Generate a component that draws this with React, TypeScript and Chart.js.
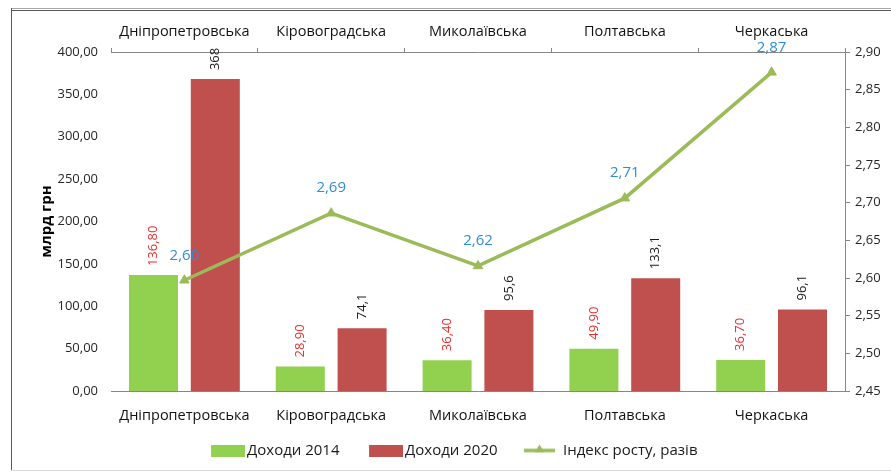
import React, { useEffect, useRef } from 'react';
import { Chart, registerables } from 'chart.js';

Chart.register(...registerables);

const categories = ['Дніпропетровська', 'Кіровоградська', 'Миколаївська', 'Полтавська', 'Черкаська'];
const income2014 = [136.8, 28.9, 36.4, 49.9, 36.7];
const income2020 = [368, 74.1, 95.6, 133.1, 96.1];
const growthIndex = [2.597, 2.686, 2.616, 2.706, 2.873];
const seriesNames = ['Доходи 2014', 'Доходи 2020', 'Індекс росту, разів'];
const axisTitle = 'млрд грн';
const leftAxis = { min: 0, max: 400, step: 50 };
const rightAxis = { min: 2.45, max: 2.9, step: 0.05 };

const FONT = "'Open Sans', sans-serif";
const GREEN = '#92D050';
const RED = '#C0504D';
const LINE = '#9BBB59';
const AXIS = '#868686';

const fmt2 = (v: number) => Number(v).toFixed(2).replace('.', ',');
const fmtPlain = (v: number) => String(v).replace('.', ',');

const LEGEND_FONT = 15;
const LEGEND_PAD = 6;
const PSW = 52;

function imgWidth() {
  return PSW + 2 * (LEGEND_FONT / 2 - 1);
}

function makeBoxImg(color: string) {
  const W = imgWidth();
  const H = 12;
  const c = document.createElement('canvas');
  c.width = W;
  c.height = H;
  const g = c.getContext('2d')!;
  g.fillStyle = color;
  g.fillRect(W - 35, 0, 34, H);
  return c;
}

function makeLineImg(color: string) {
  const W = imgWidth();
  const H = 14;
  const c = document.createElement('canvas');
  c.width = W;
  c.height = H;
  const g = c.getContext('2d')!;
  g.strokeStyle = color;
  g.lineWidth = 3.5;
  g.beginPath();
  g.moveTo(W - 38, H / 2);
  g.lineTo(W - 7, H / 2);
  g.stroke();
  const cx = W - 22.5;
  g.fillStyle = color;
  g.beginPath();
  g.moveTo(cx, H / 2 - 6);
  g.lineTo(cx + 5, H / 2 + 2);
  g.lineTo(cx - 5, H / 2 + 2);
  g.closePath();
  g.fill();
  return c;
}

const framePlugin = {
  id: 'frame',
  beforeDraw(chart: any) {
    const c = chart.ctx;
    c.save();
    c.fillStyle = '#ffffff';
    c.fillRect(0, 0, chart.width, chart.height);
    c.lineWidth = 1;
    const seg = (x1: number, y1: number, x2: number, y2: number, col: string) => {
      c.strokeStyle = col;
      c.beginPath();
      c.moveTo(x1, y1);
      c.lineTo(x2, y2);
      c.stroke();
    };
    seg(11, 8.5, chart.width, 8.5, '#a6a6a6');
    seg(11, 10.5, chart.width, 10.5, '#595959');
    seg(11.5, 8, 11.5, 471, '#595959');
    seg(11, 470.5, chart.width, 470.5, '#d9d9d9');
    c.restore();
  },
};

const legendShiftPlugin = {
  id: 'legendShift',
  afterLayout(chart: any) {
    const lg = chart.legend;
    if (lg) {
      lg.left -= 9;
      lg.right -= 9;
    }
  },
};

const labelPlugin = {
  id: 'valueLabels',
  afterDatasetsDraw(chart: any) {
    const ctx = chart.ctx;
    ctx.save();
    [0, 1].forEach((di) => {
      const meta = chart.getDatasetMeta(di);
      const values = chart.data.datasets[di].data as number[];
      meta.data.forEach((el: any, i: number) => {
        const text = di === 0 ? fmt2(values[i]) : fmtPlain(values[i]);
        ctx.save();
        ctx.translate(el.x, el.y - 9);
        ctx.rotate(-Math.PI / 2);
        ctx.font = `13px ${FONT}`;
        ctx.fillStyle = di === 0 ? '#E3302D' : '#1a1a1a';
        ctx.textAlign = 'left';
        ctx.textBaseline = 'middle';
        ctx.fillText(text, 0, 0);
        ctx.restore();
      });
    });
    const lm = chart.getDatasetMeta(2);
    const lv = chart.data.datasets[2].data as number[];
    lm.data.forEach((el: any, i: number) => {
      ctx.font = `15px ${FONT}`;
      ctx.fillStyle = '#2F8CDB';
      ctx.textAlign = 'center';
      ctx.textBaseline = 'middle';
      ctx.fillText(fmt2(lv[i]), el.x, el.y - 25);
    });
    ctx.restore();
  },
};

export default function App() {
  const ref = useRef<HTMLCanvasElement>(null);

  useEffect(() => {
    document.body.style.margin = '0';
    const canvas = ref.current!;
    const legendItems = [
      makeBoxImg(GREEN),
      makeBoxImg(RED),
      makeLineImg(LINE),
    ].map((img, i) => ({
      text: seriesNames[i],
      pointStyle: img,
      fillStyle: 'transparent',
      strokeStyle: 'transparent',
      lineWidth: 0,
      hidden: false,
      datasetIndex: i,
      fontColor: '#1a1a1a',
    }));

    const chart = new Chart(canvas, {
      type: 'bar',
      data: {
        labels: categories,
        datasets: [
          {
            type: 'bar',
            label: seriesNames[0],
            data: income2014,
            backgroundColor: GREEN,
            yAxisID: 'y',
            xAxisID: 'x',
            order: 2,
            categoryPercentage: 0.842,
            barPercentage: 0.793,
          },
          {
            type: 'bar',
            label: seriesNames[1],
            data: income2020,
            backgroundColor: RED,
            yAxisID: 'y',
            xAxisID: 'x',
            order: 2,
            categoryPercentage: 0.842,
            barPercentage: 0.793,
          },
          {
            type: 'line',
            label: seriesNames[2],
            data: growthIndex,
            borderColor: LINE,
            backgroundColor: LINE,
            borderWidth: 3.5,
            pointStyle: 'triangle',
            pointRadius: 5.5,
            pointBackgroundColor: LINE,
            pointBorderColor: LINE,
            pointBorderWidth: 1,
            yAxisID: 'y1',
            xAxisID: 'x',
            order: 1,
            tension: 0,
          } as any,
        ],
      },
      options: {
        responsive: false,
        maintainAspectRatio: false,
        animation: false,
        devicePixelRatio: 1,
        font: { family: FONT },
        layout: { padding: { left: 12, right: 0, top: 10, bottom: 5 } },
        scales: {
          x: {
            type: 'category',
            position: 'bottom',
            offset: true,
            grid: { display: false, drawOnChartArea: false, drawTicks: false, offset: true },
            border: { display: true, color: AXIS, width: 1 },
            ticks: { padding: 16, color: '#111', font: { size: 14.5, family: FONT }, maxRotation: 0, autoSkip: false },
            afterFit: (s: any) => { s.height = 46; },
          },
          x2: {
            type: 'category',
            position: 'top',
            labels: categories,
            offset: true,
            grid: { display: true, drawOnChartArea: false, drawTicks: true, tickLength: 4, offset: true, color: AXIS },
            border: { display: true, color: AXIS, width: 1 },
            ticks: { padding: 7, color: '#111', font: { size: 14.5, family: FONT }, maxRotation: 0, autoSkip: false },
            afterFit: (s: any) => { s.height = 42; },
          },
          y: {
            position: 'left',
            min: leftAxis.min,
            max: leftAxis.max,
            ticks: {
              stepSize: leftAxis.step,
              padding: 13,
              color: '#262626',
              font: { size: 13, family: FONT },
              callback: (v: any) => fmt2(v),
            },
            grid: { display: false, drawTicks: false },
            border: { display: false },
            title: {
              display: true,
              text: axisTitle,
              color: '#000',
              font: { size: 15, weight: 'bold', family: FONT },
              padding: { top: 26, bottom: 0 },
            },
            afterFit: (s: any) => { s.width = 99; },
          },
          y1: {
            position: 'right',
            min: rightAxis.min,
            max: rightAxis.max,
            ticks: {
              stepSize: rightAxis.step,
              padding: 5,
              color: '#262626',
              font: { size: 13, family: FONT },
              callback: (v: any) => fmt2(v),
            },
            grid: { display: true, drawOnChartArea: false, drawTicks: true, tickLength: 5, color: AXIS },
            border: { display: true, color: AXIS, width: 1 },
            afterFit: (s: any) => { s.width = 46; },
          },
        } as any,
        plugins: {
          legend: {
            position: 'bottom',
            labels: {
              usePointStyle: true,
              pointStyleWidth: PSW,
              padding: LEGEND_PAD,
              color: '#1a1a1a',
              font: { size: LEGEND_FONT, family: FONT },
              generateLabels: () => legendItems as any,
            },
            onClick: () => {},
          },
          tooltip: { enabled: false },
        },
      } as any,
      plugins: [framePlugin, legendShiftPlugin, labelPlugin],
    });
    return () => chart.destroy();
  }, []);

  return (
    <div style={{ width: 891, height: 473 }}>
      <canvas ref={ref} width={891} height={473} style={{ display: 'block' }} />
    </div>
  );
}
